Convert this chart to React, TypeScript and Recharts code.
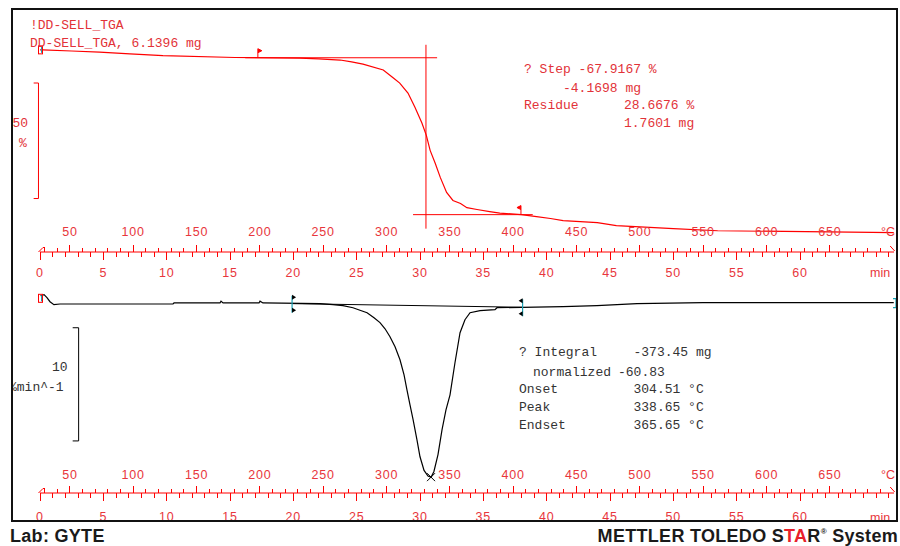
import React from 'react';
import { ComposedChart, Line, XAxis, YAxis, ReferenceLine, ReferenceDot } from 'recharts';

const RED = '#ff0000';
const LABEL_RED = '#e8363c';
const TEXT_RED = '#e23238';
const TEXT_DARK = '#333';
const CYAN = '#1aa3b5';
const MONO = '"Liberation Mono", "DejaVu Sans Mono", monospace';
const SANS = '"Liberation Sans", Arial, sans-serif';

// time axis in min, furnace temperature runs along with it (~10 K/min)
const T_END = 67.42;
const TEMP_START = 26.4;
const TEMP_END = 700.6;

const timeLabels = [0, 5, 10, 15, 20, 25, 30, 35, 40, 45, 50, 55, 60];
const tempLabels = [50, 100, 150, 200, 250, 300, 350, 400, 450, 500, 550, 600, 650];
const timeTicks = Array.from({ length: 68 }, (_, i) => i);
const tempTicks = Array.from({ length: 67 }, (_, i) => 30 + i * 10);

// TGA weight, %
const tgaTime = [0, 0.2, 2.5, 4.7, 7.1, 9.7, 15.4, 20.5, 22.0, 23.7, 24.6, 25.5, 27.1, 27.9, 28.4, 29.05, 29.6, 30.15, 30.5, 30.8, 31.2, 31.6, 32.1, 32.6, 33.2, 33.7, 34.5, 35.5, 36.3, 38.0, 39.2, 40.3, 41.3, 44.0, 45.5, 50.0, 53.5, 67.4];
const tgaWeight = [100, 100, 99.5, 99.0, 98.3, 97.5, 96.7, 96.4, 96.1, 95.6, 94.8, 93.8, 91.3, 87.8, 85.6, 81.3, 75.2, 68.3, 63.0, 56.5, 50.9, 44.8, 38.3, 34.8, 33.5, 31.7, 30.9, 30.0, 29.3, 28.7, 27.8, 27.0, 26.1, 25.2, 23.9, 22.6, 21.7, 20.9];

// DTG, %/min
const dtgTime = [0.04, 0.32, 0.55, 0.79, 1.1, 1.58, 10.5, 10.58, 14.21, 14.29, 14.45, 17.29, 17.37, 17.6, 22.1, 23.13, 23.92, 24.71, 25.26, 25.82, 26.37, 26.84, 27.24, 27.63, 28.03, 28.42, 28.74, 28.97, 29.21, 29.45, 29.76, 30.0, 30.32, 30.63, 30.87, 31.1, 31.42, 31.74, 32.05, 32.37, 32.76, 33.16, 33.55, 33.95, 34.74, 35.92, 36.08, 41.29, 43.97, 47.13, 52.34, 67.4];
const dtgRate = [0.73, 0.82, 0.56, 0.2, -0.06, 0, 0, 0.09, 0.09, 0.25, 0.09, 0.09, 0.25, 0.09, 0.03, -0.06, -0.15, -0.33, -0.55, -0.77, -1.21, -1.65, -2.19, -2.89, -3.78, -4.93, -6.26, -7.58, -8.91, -10.2, -12.0, -13.5, -14.7, -15.2, -15.3, -14.8, -13.3, -11.1, -9.35, -8.03, -5.19, -2.54, -1.39, -0.77, -0.59, -0.5, -0.33, -0.24, -0.15, 0.03, 0.12, 0.12];

// step evaluation on the TGA curve
const stepUpper = 96.58;
const stepLower = 28.67;
const stepTime = 30.47;
const tgaLimits = [17.2, 37.97];
const tgaLimitWeight = [96.6, 28.7];

// peak evaluation on the DTG curve
const dtgLimits = [19.9, 38.1];
const dtgLimitRate = [0.03, -0.29];
const peakTime = 30.87;
const peakRate = -15.3;

const TGA_DOMAIN = [12.5, 106];
const DTG_DOMAIN = [-16.7, 1.5];

const tgaData = tgaTime.map((t, i) => ({ t, w: tgaWeight[i] }));
const dtgData = dtgTime.map((t, i) => ({ t, r: dtgRate[i] }));
// the temperature ruler needs something bound to it, or it draws no ticks
const tempSpan = [
  { T: TEMP_START, v: 0 },
  { T: TEMP_END, v: 0 },
];

const TimeTick = ({ x, payload, rulerY, labelDy }: any) => {
  const v = payload.value;
  const y = rulerY;
  const major = timeLabels.includes(v);
  return (
    <g>
      <line x1={x} x2={x} y1={y} y2={y + (major ? 7.5 : 4.5)} stroke={RED} shapeRendering="crispEdges" />
      {major && (
        <text x={x} y={y + labelDy} textAnchor="middle" fill={LABEL_RED} fontSize={12.5} fontFamily={SANS} letterSpacing={0.8}>
          {v}
        </text>
      )}
      {v === 0 && <path d={`M${x - 1.5},${y} L${x + 3},${y - 4.5} L${x + 5},${y - 4.5}`} stroke={RED} fill="none" />}
      {v === 67 && <path d={`M${x + 1.5},${y - 6} L${x + 6},${y - 1}`} stroke={RED} fill="none" />}
    </g>
  );
};

const TempTick = ({ x, payload, rulerY, labelDy }: any) => {
  const v = payload.value;
  const y = rulerY;
  const major = tempLabels.includes(v);
  return (
    <g>
      <line x1={x} x2={x} y1={y} y2={y - (major ? 7.5 : 4.5)} stroke={RED} shapeRendering="crispEdges" />
      {major && (
        <text x={x} y={y - labelDy} textAnchor="middle" fill={LABEL_RED} fontSize={12.5} fontFamily={SANS} letterSpacing={0.8}>
          {v}
        </text>
      )}
    </g>
  );
};

const Flag = ({ cx, cy, dir, color }: any) => (
  <path d={`M${cx},${cy} V${cy - 9} l${dir * 4},2 l${-dir * 4},2`} stroke={color} fill={color} strokeWidth={1} />
);

const LimitMark = ({ cx, cy, dir }: any) => (
  <g>
    <line x1={cx} x2={cx} y1={cy - 8} y2={cy + 9} stroke={CYAN} strokeWidth={1.2} />
    <path d={`M${cx},${cy - 9} l${dir * 4},2.5 l${-dir * 4},2.5 Z`} fill="#000" />
    <path d={`M${cx},${cy + 9} l${dir * 4},-2.5 l${-dir * 4},-2.5 Z`} fill="#000" />
  </g>
);

const Cross = ({ cx, cy }: any) => (
  <path d={`M${cx - 4},${cy - 4} L${cx + 4},${cy + 4} M${cx + 4},${cy - 4} L${cx - 4},${cy + 4}`} stroke="#000" strokeWidth={1} />
);

const StartBox = ({ cx, cy }: any) => (
  <g>
    <rect x={cx - 1.5} y={cy - 4} width={4} height={8} fill="none" stroke={RED} strokeWidth={1} />
    <line x1={cx + 1.5} x2={cx + 1.5} y1={cy - 3} y2={cy + 3} stroke={CYAN} />
  </g>
);

const EndBracket = ({ cx, cy }: any) => (
  <path d={`M${cx - 1},${cy - 4} h3 v9 h-3`} stroke={CYAN} fill="none" strokeWidth={1.2} />
);

// both rulers share one line: temperature ticks point up, time ticks point down
const axesFor = (rulerY: number, timeDy: number, tempDy: number) => [
  <XAxis
    key="time"
    dataKey="t"
    type="number"
    domain={[0, T_END]}
    allowDataOverflow
    ticks={timeTicks}
    interval={0}
    height={1}
    tickSize={0}
    tickMargin={0}
    tickLine={false}
    axisLine={false}
    tick={(p: any) => <TimeTick {...p} rulerY={rulerY} labelDy={timeDy} />}
  />,
  <XAxis
    key="temp"
    xAxisId="temp"
    dataKey="T"
    type="number"
    domain={[TEMP_START, TEMP_END]}
    allowDataOverflow
    ticks={tempTicks}
    interval={0}
    height={1}
    tickSize={0}
    tickMargin={0}
    tickLine={false}
    axisLine={false}
    tick={(p: any) => <TempTick {...p} rulerY={rulerY} labelDy={tempDy} />}
  />,
  <Line
    key="tempSpan"
    xAxisId="temp"
    data={tempSpan}
    dataKey="v"
    stroke="none"
    dot={false}
    activeDot={false}
    legendType="none"
    isAnimationActive={false}
  />,
];

const Txt = ({ x, y, children, color = TEXT_RED, font = MONO, size = 13 }: any) => (
  <text x={x} y={y} fill={color} fontFamily={font} fontSize={size} style={{ whiteSpace: 'pre' }}>
    {children}
  </text>
);

export default function App() {
  return (
    <div style={{ position: 'absolute', left: 0, top: 0, width: 900, height: 546, background: '#fff', overflow: 'hidden' }}>
      <div
        style={{
          position: 'absolute',
          left: 11,
          top: 8,
          width: 883,
          height: 510,
          border: '2px solid #111',
          overflow: 'hidden',
        }}
      >
        <div style={{ position: 'absolute', left: -13, top: -10, width: 900, height: 546 }}>
          {/* TGA */}
          <div style={{ position: 'absolute', left: 0, top: 0 }}>
            <ComposedChart width={900} height={285} margin={{ top: 36, right: 6, bottom: 31, left: 40 }}>
              {axesFor(252, 25, 16)}
              <YAxis hide type="number" domain={TGA_DOMAIN} allowDataOverflow />
              <ReferenceLine y={TGA_DOMAIN[0]} stroke={RED} ifOverflow="visible" />
              <ReferenceLine segment={[{ x: 16.2, y: stepUpper }, { x: 31.35, y: stepUpper }]} stroke={RED} ifOverflow="visible" />
              <ReferenceLine segment={[{ x: 29.45, y: stepLower }, { x: 38.9, y: stepLower }]} stroke={RED} ifOverflow="visible" />
              <ReferenceLine segment={[{ x: stepTime, y: 102.2 }, { x: stepTime, y: 22.6 }]} stroke={RED} ifOverflow="visible" />
              <ReferenceLine segment={[{ x: -0.12, y: 85.65 }, { x: -0.12, y: 35.65 }]} stroke={RED} ifOverflow="visible" />
              <ReferenceLine segment={[{ x: -0.5, y: 85.65 }, { x: -0.12, y: 85.65 }]} stroke={RED} ifOverflow="visible" />
              <ReferenceLine segment={[{ x: -0.5, y: 35.65 }, { x: -0.12, y: 35.65 }]} stroke={RED} ifOverflow="visible" />
              <Line data={tgaData} dataKey="w" type="linear" stroke={RED} strokeWidth={1.2} dot={false} activeDot={false} isAnimationActive={false} />
              <ReferenceDot x={tgaLimits[0]} y={tgaLimitWeight[0]} shape={(p: any) => <Flag {...p} dir={1} color={RED} />} ifOverflow="visible" />
              <ReferenceDot x={tgaLimits[1]} y={tgaLimitWeight[1]} shape={(p: any) => <Flag {...p} dir={-1} color={RED} />} ifOverflow="visible" />
              <ReferenceDot x={0} y={100} shape={(p: any) => <StartBox {...p} />} ifOverflow="visible" />
            </ComposedChart>
          </div>

          {/* DTG */}
          <div style={{ position: 'absolute', left: 0, top: 260 }}>
            <ComposedChart width={900} height={275} margin={{ top: 27, right: 6, bottom: 40, left: 40 }}>
              {axesFor(233, 28, 14)}
              <YAxis hide type="number" domain={DTG_DOMAIN} allowDataOverflow />
              <ReferenceLine y={DTG_DOMAIN[0]} stroke={RED} ifOverflow="visible" />
              <ReferenceLine
                segment={[{ x: dtgLimits[0], y: dtgLimitRate[0] }, { x: dtgLimits[1], y: dtgLimitRate[1] }]}
                stroke="#000"
                ifOverflow="visible"
              />
              <ReferenceLine segment={[{ x: 3.05, y: -2.1 }, { x: 3.05, y: -12.1 }]} stroke="#000" ifOverflow="visible" />
              <ReferenceLine segment={[{ x: 2.58, y: -2.1 }, { x: 3.05, y: -2.1 }]} stroke="#000" ifOverflow="visible" />
              <ReferenceLine segment={[{ x: 2.58, y: -12.1 }, { x: 3.05, y: -12.1 }]} stroke="#000" ifOverflow="visible" />
              <Line data={dtgData} dataKey="r" type="linear" stroke="#000" strokeWidth={1.2} dot={false} activeDot={false} isAnimationActive={false} />
              <ReferenceDot x={dtgLimits[0]} y={dtgLimitRate[0]} shape={(p: any) => <LimitMark {...p} dir={1} />} ifOverflow="visible" />
              <ReferenceDot x={dtgLimits[1]} y={dtgLimitRate[1]} shape={(p: any) => <LimitMark {...p} dir={-1} />} ifOverflow="visible" />
              <ReferenceDot x={peakTime} y={peakRate} shape={(p: any) => <Cross {...p} />} ifOverflow="visible" />
              <ReferenceDot x={0} y={0.5} shape={(p: any) => <StartBox {...p} />} ifOverflow="visible" />
              <ReferenceDot x={T_END} y={0.12} shape={(p: any) => <EndBracket {...p} />} ifOverflow="visible" />
            </ComposedChart>
          </div>

          {/* annotations */}
          <svg width={900} height={546} style={{ position: 'absolute', left: 0, top: 0, pointerEvents: 'none' }}>
            <Txt x={30} y={29}>!DD-SELL_TGA</Txt>
            <Txt x={30} y={46.5}>DD-SELL_TGA, 6.1396 mg</Txt>
            <Txt x={524} y={73}>? Step -67.9167 %</Txt>
            <Txt x={563} y={92}>-4.1698 mg</Txt>
            <Txt x={524} y={109}>Residue</Txt>
            <Txt x={624} y={109}>28.6676 %</Txt>
            <Txt x={624} y={127}>1.7601 mg</Txt>
            <Txt x={12.5} y={127}>50</Txt>
            <Txt x={19} y={146.5}>%</Txt>
            <Txt x={881} y={235.5} font={SANS} size={12.5} color={LABEL_RED}>°C</Txt>
            <Txt x={870} y={276.5} font={SANS} size={12.5} color={LABEL_RED}>min</Txt>

            <Txt x={519} y={356} color={TEXT_DARK}>? Integral</Txt>
            <Txt x={633.5} y={356} color={TEXT_DARK}>-373.45 mg</Txt>
            <Txt x={533} y={375.5} color={TEXT_DARK}>normalized</Txt>
            <Txt x={618} y={375.5} color={TEXT_DARK}>-60.83</Txt>
            <Txt x={519} y={393} color={TEXT_DARK}>Onset</Txt>
            <Txt x={633.5} y={393} color={TEXT_DARK}>304.51 °C</Txt>
            <Txt x={519} y={411} color={TEXT_DARK}>Peak</Txt>
            <Txt x={633.5} y={411} color={TEXT_DARK}>338.65 °C</Txt>
            <Txt x={519} y={429} color={TEXT_DARK}>Endset</Txt>
            <Txt x={633.5} y={429} color={TEXT_DARK}>365.65 °C</Txt>
            <Txt x={52} y={370.5} color={TEXT_DARK}>10</Txt>
            <Txt x={9} y={390.5} color={TEXT_DARK}>%min^-1</Txt>
            <Txt x={881} y={479} font={SANS} size={12.5} color={LABEL_RED}>°C</Txt>
            <Txt x={870} y={521.5} font={SANS} size={12.5} color={LABEL_RED}>min</Txt>
          </svg>
        </div>
      </div>

      {/* footer */}
      <svg width={900} height={546} style={{ position: 'absolute', left: 0, top: 0, pointerEvents: 'none' }}>
        <text x={10} y={541.5} fontFamily={SANS} fontWeight="bold" fontSize={18} fill="#1a1a1a" letterSpacing={0.3}>
          Lab: GYTE
        </text>
        <text x={898} y={541.5} textAnchor="end" fontFamily={SANS} fontWeight="bold" fontSize={18} fill="#1a1a1a" letterSpacing={0.3}>
          <tspan>METTLER TOLEDO S</tspan>
          <tspan fill="#e8202a">TA</tspan>
          <tspan>R</tspan>
          <tspan fontSize={8} dy={-8}>®</tspan>
          <tspan dy={8}> System</tspan>
        </text>
      </svg>
    </div>
  );
}
